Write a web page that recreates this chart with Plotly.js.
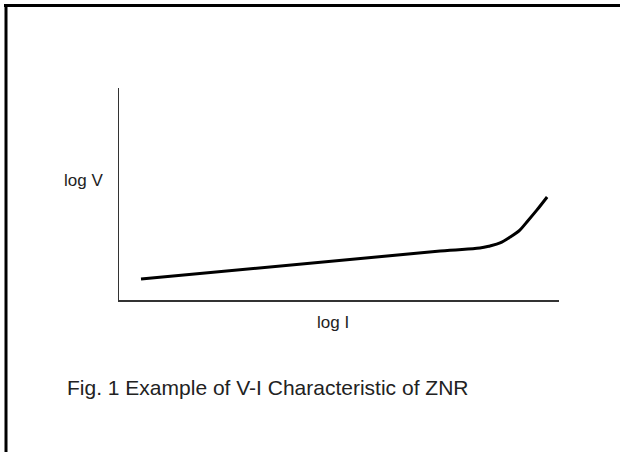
<!DOCTYPE html>
<html>
<head>
<meta charset="utf-8">
<script src="https://cdn.plot.ly/plotly-3.0.1.min.js"></script>
<style>
  html, body { margin: 0; padding: 0; background: #fff; }
  #chart { width: 620px; height: 452px; }
</style>
</head>
<body>
<div id="chart"></div>
<script>
// V-I characteristic (arbitrary log units)
const logI = [0.5, 7.30, 8.20, 8.43, 8.66, 8.89, 9.11, 9.27, 9.50, 9.73];
const logV = [0.99, 2.31, 2.45, 2.55, 2.69, 2.97, 3.30, 3.68, 4.25, 4.86];

const xLabel = "log I";
const yLabel = "log V";
const caption = "Fig. 1 Example of V-I Characteristic of ZNR";

const W = 620, H = 452;
const m = { l: 119, r: 61, t: 88, b: 152 };
const pw = W - m.l - m.r, ph = H - m.t - m.b;
const px = v => (v - m.l) / pw;          // pixel x -> paper x
const py = v => (H - m.b - v) / ph;      // pixel y -> paper y

const font = { family: "Liberation Sans, Arial, sans-serif", color: "#222" };

const trace = {
  x: logI, y: logV, type: "scatter", mode: "lines",
  line: { color: "#000", width: 3, shape: "spline", smoothing: 1.0 },
  hoverinfo: "skip"
};

const layout = {
  width: W, height: H,
  margin: m,
  paper_bgcolor: "#fff", plot_bgcolor: "#fff",
  showlegend: false,
  xaxis: { range: [0, 10], showline: true, linecolor: "#333", linewidth: 2,
           showgrid: false, zeroline: false, showticklabels: false, ticks: "", fixedrange: true },
  yaxis: { range: [0, 10], showline: true, linecolor: "#333", linewidth: 1.5,
           showgrid: false, zeroline: false, showticklabels: false, ticks: "", fixedrange: true },
  shapes: [
    { type: "line", xref: "paper", yref: "paper", x0: px(4), x1: px(W + 5), y0: py(5.5), y1: py(5.5),
      line: { color: "#000", width: 3 } },
    { type: "line", xref: "paper", yref: "paper", x0: px(6), x1: px(6), y0: py(4), y1: py(H + 5),
      line: { color: "#000", width: 3 } }
  ],
  annotations: [
    { text: yLabel, xref: "paper", yref: "paper", x: px(83), y: py(180), showarrow: false,
      xanchor: "center", yanchor: "middle", font: Object.assign({ size: 17 }, font) },
    { text: xLabel, xref: "paper", yref: "paper", x: px(333), y: py(322), showarrow: false,
      xanchor: "center", yanchor: "middle", font: Object.assign({ size: 17 }, font) },
    { text: caption, xref: "paper", yref: "paper", x: px(267), y: py(387), showarrow: false,
      xanchor: "center", yanchor: "middle", font: Object.assign({ size: 21 }, font) }
  ]
};

Plotly.newPlot("chart", [trace], layout, { staticPlot: true, displayModeBar: false });
</script>
</body>
</html>
